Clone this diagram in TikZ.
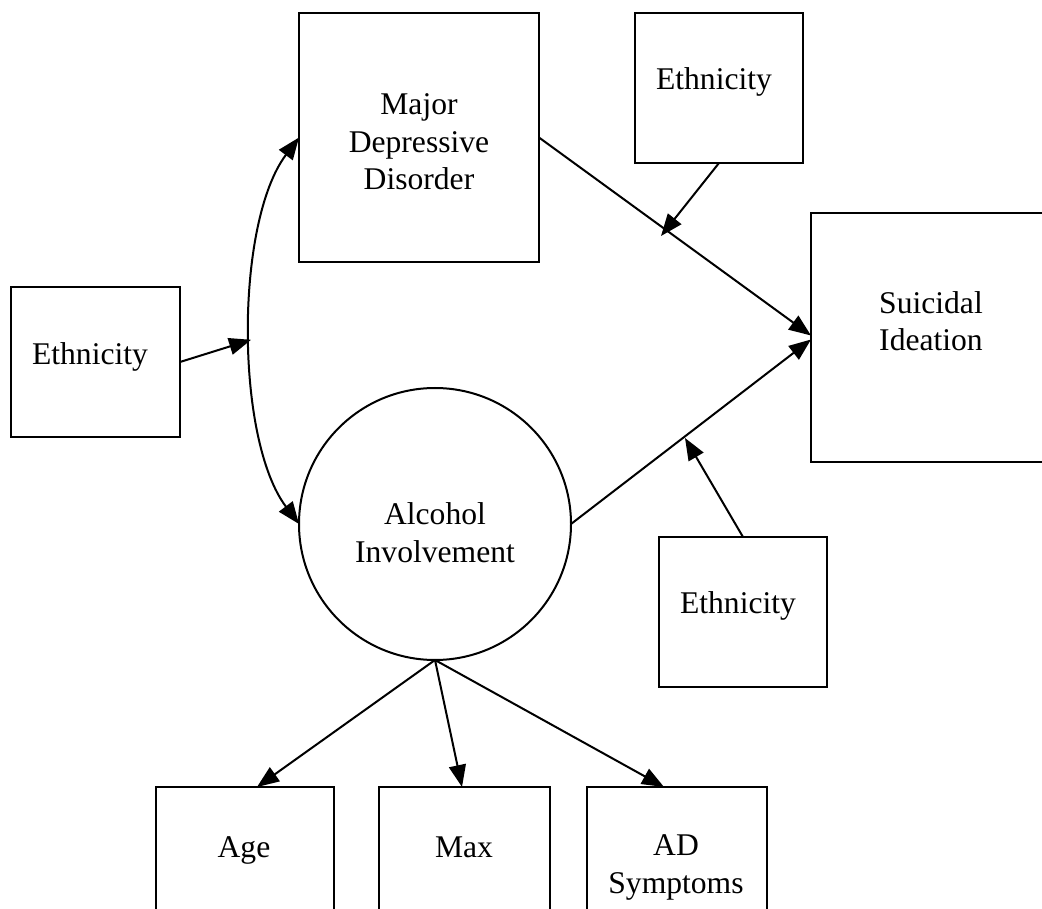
\documentclass[tikz,border=0pt]{standalone}
\usepackage{fontspec}
\setmainfont{Liberation Serif}
\usetikzlibrary{arrows.meta,calc}
\begin{document}
\begin{tikzpicture}[x=1pt,y=-1pt,
  box/.style={draw, line width=2pt, rectangle, inner sep=0pt, outer sep=0pt},
  latent/.style={draw, line width=2pt, circle, inner sep=0pt, outer sep=0pt, minimum size=272pt},
  txt/.style={font=\fontsize{31.6}{37.5}\selectfont, inner sep=0pt, anchor=base, align=center},
  arr/.style={line width=2pt, -{Triangle[length=22pt,width=17pt]}},
]
\useasboundingbox (0,0) rectangle (1042,909);

% boxes
\node[box, minimum width=169pt, minimum height=150pt] (e1) at (95.5,362) {};
\node[box, minimum width=240pt, minimum height=249pt] (mdd) at (419,137.5) {};
\node[box, minimum width=168pt, minimum height=150pt] (e2) at (719,88) {};
\node[box, minimum width=240pt, minimum height=249pt] (si) at (931,337.5) {};
\node[latent] (alc) at (435,524) {};
\node[box, minimum width=168pt, minimum height=150pt] (e3) at (743,612) {};
\node[box, minimum width=178pt, minimum height=150pt] (age) at (245,862) {};
\node[box, minimum width=171pt, minimum height=150pt] (max) at (464.5,862) {};
\node[box, minimum width=180pt, minimum height=150pt] (ad) at (677,862) {};

% texts (base anchor = baseline of the last line)
\node[txt] (e1t) at (90,365) {Ethnicity};
\node[txt] (mddt) at (419,190) {Major\\Depressive\\Disorder};
\node[txt] (e2t) at (714,90) {Ethnicity};
\node[txt] (sit) at (931,351) {Suicidal\\Ideation};
\node[txt] (alct) at (435,562) {Alcohol\\Involvement};
\node[txt] (e3t) at (738,613) {Ethnicity};
\node[txt] (aget) at (244,857) {Age};
\node[txt] (maxt) at (464,857) {Max};
\node[txt] (adt) at (676,893) {AD\\Symptoms};

% correlation curve
\draw[line width=2pt, {Triangle[length=22pt,width=17pt]}-{Triangle[length=22pt,width=17pt]}]
  (mdd.west) .. controls +(-64,85) and +(-64,-85) .. (alc.west)
  coordinate[pos=0.52] (cm);

\coordinate (t1) at (661,236);
\coordinate (t2) at (685,438);

\draw[arr] (e1.east) -- (cm);
\draw[arr] (mdd.east) -- ([yshift=2pt]si.west);
\draw[arr] (alc.east) -- ([yshift=-2pt]si.west);
\draw[arr] (e2.south) -- (t1);
\draw[arr] (e3.north) -- (t2);
\draw[arr] (alc.south) -- ([xshift=12pt]age.north);
\draw[arr] (alc.south) -- ([xshift=-2.5pt]max.north);
\draw[arr] (alc.south) -- ([xshift=-13pt]ad.north);
\end{tikzpicture}
\end{document}
